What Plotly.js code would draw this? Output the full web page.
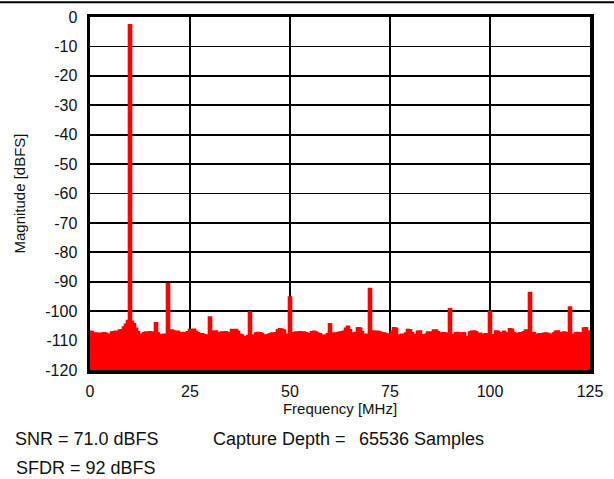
<!DOCTYPE html>
<html>
<head>
<meta charset="utf-8">
<script src="https://cdn.plot.ly/plotly-3.0.1.min.js"></script>
<style>
  html, body { margin: 0; padding: 0; background: #ffffff; }
  #chart { width: 614px; height: 479px; }
</style>
</head>
<body>
<div id="chart"></div>
<script>
// FFT bin spacing of the noise floor trace (MHz)
const binStep = 0.5;
// Noise floor levels (dBFS), one per bin from 0 to 125 MHz
const noiseLevels = [
  -107.0,-107.1,-107.8,-107.6,-107.9,-107.7,-108.9,-107.5,-107.7,-108.1,
  -108.0,-107.3,-107.2,-107.0,-107.3,-106.6,-106.5,-105.6,-104.6,-103.4,
  -103.0,-103.6,-104.5,-106.0,-107.2,-108.0,-108.6,-107.5,-107.3,-107.8,
  -107.2,-107.3,-107.4,-107.5,-107.6,-108.2,-108.6,-108.0,-108.7,-108.5,
  -108.4,-106.6,-106.9,-107.3,-107.0,-107.5,-107.6,-107.4,-107.8,-107.2,
  -106.4,-106.6,-106.3,-107.0,-107.5,-108.0,-107.9,-108.1,-108.3,-108.5,
  -108.0,-107.4,-107.0,-106.9,-107.6,-107.5,-107.3,-107.4,-107.2,-107.6,
  -107.5,-106.4,-106.5,-106.4,-107.0,-108.0,-108.3,-108.9,-108.9,-108.5,
  -108.5,-108.4,-108.3,-107.6,-107.4,-107.5,-107.8,-108.3,-108.4,-108.2,
  -107.9,-107.6,-107.8,-107.5,-106.5,-106.2,-106.3,-106.6,-108.6,-108.0,
  -108.0,-108.0,-107.5,-107.3,-107.4,-107.2,-107.6,-107.3,-107.5,-107.8,
  -108.6,-107.2,-107.0,-107.3,-107.7,-107.9,-108.4,-108.5,-108.3,-107.8,
  -107.8,-107.8,-107.6,-107.8,-107.5,-107.3,-107.2,-107.0,-106.0,-105.3,
  -106.5,-109.0,-107.6,-107.4,-105.8,-105.9,-107.2,-109.0,-108.0,-108.0,
  -108.0,-107.4,-106.9,-107.0,-107.0,-107.3,-107.5,-107.6,-107.8,-108.1,
  -108.0,-107.0,-105.8,-106.0,-108.3,-108.4,-108.0,-108.1,-107.6,-106.4,
  -106.5,-107.5,-108.1,-108.9,-107.0,-106.9,-108.2,-108.5,-108.0,-107.3,
  -107.3,-107.6,-106.6,-106.6,-107.2,-108.7,-107.6,-107.5,-107.7,-108.0,
  -108.0,-108.1,-108.2,-107.5,-107.4,-107.6,-108.1,-107.5,-108.9,-109.0,
  -107.3,-107.0,-106.9,-107.2,-107.8,-107.7,-108.0,-108.1,-107.9,-108.3,
  -108.3,-108.4,-108.2,-106.9,-107.0,-107.5,-107.6,-107.0,-108.4,-107.5,
  -106.2,-106.3,-107.5,-108.0,-107.8,-107.5,-107.6,-107.2,-106.6,-106.8,
  -107.0,-107.4,-107.5,-108.0,-108.1,-107.9,-108.0,-107.7,-107.6,-107.8,
  -108.6,-108.0,-107.6,-107.0,-106.9,-107.5,-107.8,-107.3,-107.4,-108.6,
  -108.6,-108.2,-108.0,-107.5,-107.4,-107.6,-107.5,-105.9,-105.8,-106.9,
  -107.0
];
// Fundamental and spurious tones
const spurFreqs  = [10,   16.5,   19.5,  30,     40,     50,    60,     70,    90,    100,    110,   120];
const spurLevels = [-2.8, -104.1, -90.8, -102.2, -100.5, -95.4, -104.5, -92.5, -99.4, -100.2, -93.8, -98.8];

// Axis ticks
const xTickVals = [0, 25, 50, 75, 100, 125];
const xTickText = ["0", "25", "50", "75", "100", "125"];
const yTickVals = [0, -10, -20, -30, -40, -50, -60, -70, -80, -90, -100, -110, -120];
const yTickText = ["0", "-10", "-20", "-30", "-40", "-50", "-60", "-70", "-80", "-90", "-100", "-110", "-120"];
const xRange = [0, 125];
const yRange = [-120, 0];

// Texts
const xTitle = "Frequency [MHz]";
const yTitle = "Magnitude [dBFS]";
const snrText = "SNR = 71.0 dBFS";
const sfdrText = "SFDR = 92 dBFS";
const depthLabel = "Capture Depth =";
const depthValue = "65536 Samples";

// Build spectrum
const freqs = noiseLevels.map((_, i) => i * binStep);
const levels = noiseLevels.slice();
spurFreqs.forEach((f, k) => {
  const idx = freqs.findIndex(v => Math.abs(v - f) < 1e-6);
  if (idx >= 0) levels[idx] = Math.max(levels[idx], spurLevels[k]);
});

const RED = '#ff0000';
const FONT = 'Arial, "Liberation Sans", Helvetica, sans-serif';

const traces = [
  {
    x: [freqs[0], freqs[freqs.length - 1]],
    y: [yRange[0], yRange[0]],
    mode: 'lines',
    line: { width: 0, color: RED },
    hoverinfo: 'skip',
    showlegend: false
  },
  {
    x: freqs,
    y: levels,
    mode: 'lines',
    line: { color: RED, width: 2.6, shape: 'hvh' },
    fill: 'tonexty',
    fillcolor: RED,
    showlegend: false
  }
];

const axisCommon = {
  showline: true, linecolor: '#000', linewidth: 3.5, mirror: true,
  showgrid: true, gridcolor: '#000', gridwidth: 1.8,
  zeroline: false, ticks: '',
  tickfont: { family: FONT, size: 16, color: '#111' }
};

const layout = {
  width: 614, height: 479,
  margin: { l: 90, r: 24, t: 17, b: 109 },
  paper_bgcolor: '#fff', plot_bgcolor: '#fff',
  showlegend: false,
  font: { family: FONT, color: '#111' },
  xaxis: Object.assign({}, axisCommon, {
    range: xRange, tickmode: 'array', tickvals: xTickVals, ticktext: xTickText,
    ticklabelstandoff: 4,
    title: { text: xTitle, font: { family: FONT, size: 15, color: '#111' }, standoff: 3 }
  }),
  yaxis: Object.assign({}, axisCommon, {
    range: yRange, tickmode: 'array', tickvals: yTickVals, ticktext: yTickText,
    ticklabelstandoff: 6,
    title: { text: yTitle, font: { family: FONT, size: 15, color: '#111' }, standoff: 17 }
  }),
  shapes: [
    { type: 'line', xref: 'paper', yref: 'paper', x0: -0.2, x1: 1.06, y0: 1.042, y1: 1.042,
      line: { color: '#000', width: 2 } }
  ],
  annotations: [
    { text: snrText, xref: 'paper', yref: 'paper', x: -0.154, y: -0.196, xanchor: 'left', yanchor: 'middle',
      showarrow: false, font: { family: FONT, size: 18, color: '#111' } },
    { text: depthLabel, xref: 'paper', yref: 'paper', x: 0.242, y: -0.196, xanchor: 'left', yanchor: 'middle',
      showarrow: false, font: { family: FONT, size: 18, color: '#111' } },
    { text: depthValue, xref: 'paper', yref: 'paper', x: 0.534, y: -0.196, xanchor: 'left', yanchor: 'middle',
      showarrow: false, font: { family: FONT, size: 18, color: '#111' } },
    { text: sfdrText, xref: 'paper', yref: 'paper', x: -0.152, y: -0.278, xanchor: 'left', yanchor: 'middle',
      showarrow: false, font: { family: FONT, size: 18, color: '#111' } }
  ]
};

Plotly.newPlot('chart', traces, layout, { displayModeBar: false, staticPlot: true });
</script>
</body>
</html>
